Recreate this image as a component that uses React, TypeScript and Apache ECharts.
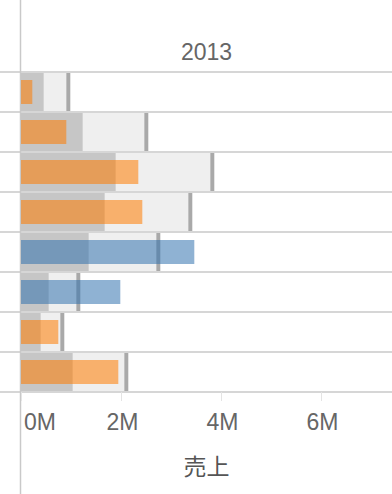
import React, { useEffect, useRef } from "react";
import * as echarts from "echarts";

const categories = ["r1", "r2", "r3", "r4", "r5", "r6", "r7", "r8"];
// Sales (millions)
const actual = [0.226, 0.906, 2.346, 2.426, 3.466, 1.986, 0.746, 1.946];
// Target (millions)
const target = [0.906, 2.466, 3.786, 3.346, 2.706, 1.106, 0.786, 2.066];
const tickLabels = ["0M", "2M", "4M", "6M"];
const yearLabel = "2013";
const axisName = "売上";

export default function App() {
  const ref = useRef<HTMLDivElement>(null);
  useEffect(() => {
    document.body.style.margin = "0";
    const chart = echarts.init(ref.current!, null, { renderer: "svg" });
    const font = "'Liberation Sans', 'Noto Sans CJK JP', sans-serif";
    const textColor = "#666666";
    const lineColor = "#c9c9c9";
    const half = target.map((t) => t * 0.5);
    const barColors = actual.map((a, i) =>
      a > target[i] ? "rgba(51,115,175,0.55)" : "rgba(255,124,0,0.55)"
    );
    chart.setOption({
      animation: false,
      textStyle: { fontFamily: font },
      grid: [
        { left: 21, width: 371, top: 72, height: 320 },
        { left: 0, width: 21, top: 72, height: 320 },
      ],
      xAxis: [
        {
          gridIndex: 0,
          type: "value",
          min: 0,
          max: 7.42,
          interval: 2,
          axisLine: { show: false },
          splitLine: { show: false },
          axisTick: { show: true, length: 9, lineStyle: { color: "#e4e4e4", width: 1 } },
          axisLabel: {
            color: textColor,
            fontSize: 23,
            fontFamily: font,
            margin: 18,
            showMaxLabel: false,
            alignMinLabel: "left",
            padding: [0, 0, 0, 3],
            formatter: (v: number) => {
              const idx = Math.round(v / 2);
              return tickLabels[idx] ?? "";
            },
          },
          name: axisName,
          nameLocation: "middle",
          nameGap: 61,
          nameTextStyle: { color: "#555555", fontSize: 23, fontFamily: "'Noto Sans CJK JP', sans-serif" },
        },
        { gridIndex: 1, type: "value", show: false },
      ],
      yAxis: [
        {
          gridIndex: 0,
          type: "category",
          data: categories,
          inverse: true,
          axisLine: { show: false },
          axisTick: { show: false },
          axisLabel: { show: false },
          splitLine: { show: true, lineStyle: { color: lineColor, width: 1.5 } },
        },
        {
          gridIndex: 0,
          type: "category",
          data: categories,
          inverse: true,
          show: false,
        },
        {
          gridIndex: 1,
          type: "category",
          data: categories,
          inverse: true,
          axisLine: { show: false },
          axisTick: { show: false },
          axisLabel: { show: false },
          splitLine: { show: true, lineStyle: { color: lineColor, width: 1.5 } },
        },
      ],
      graphic: [
        {
          type: "line",
          z: 0,
          shape: { x1: 20.5, y1: 0, x2: 20.5, y2: 494 },
          style: { stroke: lineColor, lineWidth: 1.5 },
        },
        {
          type: "text",
          x: 206.5,
          y: 51.5,
          style: {
            text: yearLabel,
            fill: textColor,
            font: `23px ${font}`,
            textAlign: "center",
            textVerticalAlign: "middle",
          },
        },
      ],
      series: [
        {
          type: "bar",
          xAxisIndex: 0,
          yAxisIndex: 0,
          data: target,
          barWidth: 38,
          barGap: "-100%",
          z: 1,
          itemStyle: { color: "#efefef" },
        },
        {
          type: "bar",
          xAxisIndex: 0,
          yAxisIndex: 0,
          data: half,
          barWidth: 38,
          barGap: "-100%",
          z: 2,
          itemStyle: { color: "#c6c6c6" },
        },
        {
          type: "scatter",
          xAxisIndex: 0,
          yAxisIndex: 0,
          data: target.map((t, i) => [t, categories[i]]),
          symbol: "rect",
          symbolSize: [4, 38],
          symbolOffset: [2, 0],
          z: 3,
          itemStyle: { color: "#a9a9a9", opacity: 1 },
        },
        {
          type: "bar",
          xAxisIndex: 0,
          yAxisIndex: 1,
          data: actual.map((a, i) => ({ value: a, itemStyle: { color: barColors[i] } })),
          barWidth: 24,
          z: 4,
        },
      ],
    });
    return () => chart.dispose();
  }, []);
  return <div ref={ref} style={{ width: 392, height: 494 }} />;
}
